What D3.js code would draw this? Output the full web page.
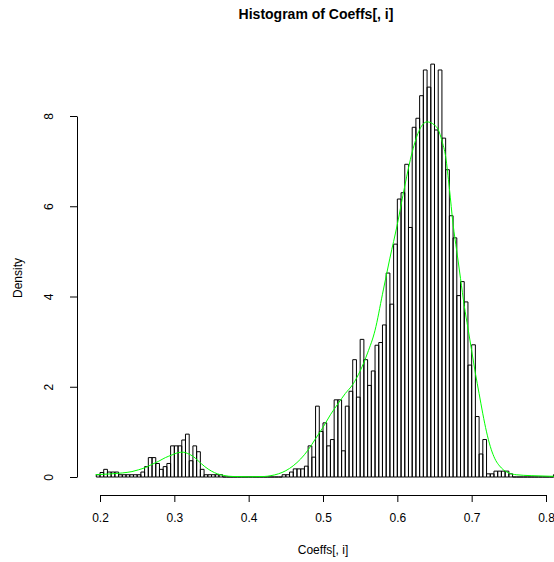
<!DOCTYPE html>
<html>
<head>
<meta charset="utf-8">
<script src="https://cdn.jsdelivr.net/npm/d3@7"></script>
<style>
  html, body { margin: 0; padding: 0; background: #ffffff; }
  svg { display: block; }
  text { font-family: "Liberation Sans", Arial, Helvetica, sans-serif; }
</style>
</head>
<body>
<div id="chart"></div>
<script>
// ---- data ----
const chartTitle = "Histogram of Coeffs[, i]";
const xLabel = "Coeffs[, i]";
const yLabel = "Density";
const binStart = 0.195;
const binWidth = 0.005;
// histogram densities, one per bin of width 0.005 starting at 0.195
const densities = [
  0.05, 0.10, 0.17, 0.11, 0.11, 0.11, 0.05, 0.05, 0.05, 0.05,
  0.05, 0.05, 0.11, 0.23, 0.43, 0.43, 0.30, 0.17, 0.23, 0.30,
  0.69, 0.69, 0.69, 0.82, 0.95, 0.36, 0.69, 0.56, 0.17, 0.05,
  0.05, 0.05, 0.05, 0.05, 0, 0, 0, 0, 0, 0,
  0, 0, 0, 0, 0, 0, 0, 0, 0, 0,
  0.05, 0.05, 0.11, 0.18, 0.18, 0.18, 0.24, 0.69, 0.44, 1.57,
  1.01, 1.20, 0.69, 0.83, 1.71, 1.71, 0.58, 1.57, 1.90, 2.60,
  1.77, 3.05, 2.60, 2.03, 2.35, 2.92, 2.98, 3.37, 4.52, 3.83,
  5.16, 6.16, 6.30, 6.93, 5.53, 7.75, 7.95, 8.45, 9.02, 8.64,
  9.15, 7.69, 9.02, 7.51, 6.81, 5.79, 5.30, 4.02, 4.33, 3.88,
  2.48, 2.93, 1.34, 0.51, 0.83, 0.07, 0.07, 0.13, 0.13, 0.13,
  0.13, 0.07, 0, 0, 0, 0, 0, 0, 0, 0,
  0, 0, 0, 0.05
];
// fitted density curve (green)
const curveX = [0.194, 0.205, 0.216, 0.230, 0.243, 0.252, 0.261, 0.270, 0.279, 0.288,
  0.297, 0.305, 0.312, 0.318, 0.325, 0.332, 0.341, 0.350, 0.358, 0.366,
  0.380, 0.400, 0.420, 0.430, 0.440, 0.450, 0.460, 0.470, 0.480, 0.490,
  0.500, 0.510, 0.520, 0.530, 0.540, 0.550, 0.560, 0.570, 0.580, 0.590,
  0.600, 0.610, 0.620, 0.630, 0.640, 0.650, 0.655, 0.660, 0.665, 0.670,
  0.675, 0.680, 0.685, 0.690, 0.695, 0.700, 0.705, 0.710, 0.715, 0.720,
  0.725, 0.730, 0.740, 0.750, 0.760, 0.780, 0.800, 0.820];
const curveY = [0.05, 0.06, 0.07, 0.09, 0.12, 0.16, 0.21, 0.28, 0.35, 0.43,
  0.49, 0.54, 0.55, 0.52, 0.46, 0.36, 0.23, 0.13, 0.07, 0.035,
  0.01, 0.005, 0.01, 0.03, 0.07, 0.14, 0.25, 0.40, 0.60, 0.85,
  1.10, 1.38, 1.62, 1.85, 2.05, 2.35, 2.75, 3.25, 4.05, 4.85,
  5.60, 6.45, 7.20, 7.70, 7.87, 7.80, 7.70, 7.45, 7.10, 6.40,
  5.60, 5.00, 4.40, 3.80, 3.30, 2.80, 2.30, 1.85, 1.40, 1.00,
  0.68, 0.45, 0.20, 0.09, 0.05, 0.03, 0.02, 0.01];
const xTicks = [0.2, 0.3, 0.4, 0.5, 0.6, 0.7, 0.8];
const yTicks = [0, 2, 4, 6, 8];

// ---- drawing ----
const W = 554, H = 562;
const svg = d3.select("#chart").append("svg")
  .attr("width", W).attr("height", H)
  .attr("viewBox", `0 0 ${W} ${H}`);

const x = d3.scaleLinear().domain([0.2, 0.8]).range([100, 546]);
const y = d3.scaleLinear().domain([0, 8]).range([477, 116]);

const bins = densities.map((d, i) => ({
  x0: binStart + i * binWidth,
  x1: binStart + (i + 1) * binWidth,
  d: d
}));

// bars (outlines only, as in R's hist)
svg.append("g")
  .selectAll("path")
  .data(bins)
  .join("path")
  .attr("d", b => {
    const p = d3.path();
    p.moveTo(x(b.x0), y(0));
    p.lineTo(x(b.x0), y(b.d));
    p.lineTo(x(b.x1), y(b.d));
    p.lineTo(x(b.x1), y(0));
    p.closePath();
    return p.toString();
  })
  .attr("fill", "none")
  .attr("stroke", "#000")
  .attr("stroke-width", 1);

// density curve
const line = d3.line()
  .x((d, i) => x(curveX[i]))
  .y(d => y(d))
  .curve(d3.curveMonotoneX);
svg.append("path")
  .attr("d", line(curveY))
  .attr("fill", "none")
  .attr("stroke", "#00ff00")
  .attr("stroke-width", 1);

// x axis
const xAxis = d3.axisBottom(x)
  .tickValues(xTicks)
  .tickFormat(d3.format(".1f"))
  .tickSize(7)
  .tickSizeOuter(0)
  .tickPadding(11);
const gx = svg.append("g")
  .attr("transform", "translate(0,495)")
  .call(xAxis);
gx.selectAll("text")
  .attr("font-size", 12)
  .attr("font-family", "'Liberation Sans', Arial, sans-serif")
  .attr("fill", "#000");
gx.select(".domain").attr("stroke", "#000");
gx.selectAll(".tick line").attr("stroke", "#000");

// y axis
const yAxis = d3.axisLeft(y)
  .tickValues(yTicks)
  .tickFormat(d3.format("d"))
  .tickSize(7)
  .tickSizeOuter(0);
const gy = svg.append("g")
  .attr("transform", "translate(77,0)")
  .call(yAxis);
gy.selectAll("text")
  .attr("x", null)
  .attr("dy", null)
  .attr("text-anchor", "middle")
  .attr("transform", "translate(-24,0) rotate(-90)")
  .attr("font-size", 12)
  .attr("font-family", "'Liberation Sans', Arial, sans-serif")
  .attr("fill", "#000");
gy.select(".domain").attr("stroke", "#000");
gy.selectAll(".tick line").attr("stroke", "#000");

// titles
svg.append("text")
  .attr("x", 316).attr("y", 19)
  .attr("text-anchor", "middle")
  .attr("font-size", 14)
  .attr("font-weight", "bold")
  .text(chartTitle);

svg.append("text")
  .attr("x", 323).attr("y", 554)
  .attr("text-anchor", "middle")
  .attr("font-size", 12)
  .text(xLabel);

svg.append("text")
  .attr("transform", "translate(22,278) rotate(-90)")
  .attr("text-anchor", "middle")
  .attr("font-size", 12)
  .text(yLabel);
</script>
</body>
</html>
